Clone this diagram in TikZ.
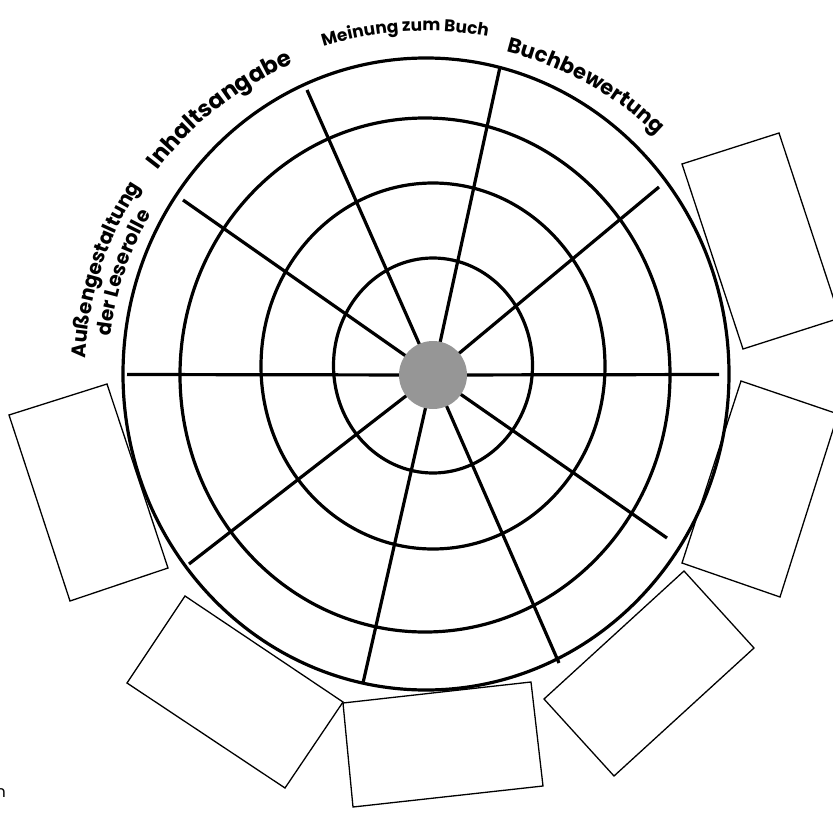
\documentclass[tikz,border=0pt]{standalone}
\usepackage{fontspec}
\newfontfamily\cfont{Poppins}
\usetikzlibrary{decorations.text}
\definecolor{dotgray}{RGB}{150,150,150}
\begin{document}
\begin{tikzpicture}[x=1pt,y=1pt,
  ring/.style={line width=3.2pt, draw=black},
  spoke/.style={line width=3.2pt, draw=black},
  card/.style={line width=1.3pt, draw=black, line join=miter},
  arctext/.style={decorate, decoration={text along path, text align=center, text={#1}}}
]
\useasboundingbox (0,0) rectangle (833,-814);
\clip (0,0) rectangle (833,-814);

% rings
\draw[ring] (426,-374) ellipse [x radius=303, y radius=316];
\draw[ring] (425,-375) ellipse [x radius=245, y radius=257];
\draw[ring] (433,-366) ellipse [x radius=172, y radius=183];
\draw[ring] (433,-365.5) ellipse [x radius=99.5, y radius=107.5];

% hub and spoke ends
\coordinate (hubc) at (433,-375);
\coordinate (eW) at (127,-374.5);
\coordinate (eE) at (719,-374.5);
\coordinate (eUL) at (183,-200);
\coordinate (eNNW) at (307,-90);
\coordinate (eNNE) at (500,-67);
\coordinate (eUR) at (659,-187);
\coordinate (eLR) at (667,-538);
\coordinate (eSSE) at (559,-663);
\coordinate (eSSW) at (363,-683);
\coordinate (eLL) at (189,-564);

\foreach \e in {eW,eE,eUL,eNNW,eNNE,eUR,eLR,eSSE,eSSW,eLL}
  \draw[spoke] (hubc) -- (\e);

\node[circle, fill=dotgray, minimum size=68pt, inner sep=0pt] (hub) at (hubc) {};

% cards
\draw[card] (682,-164) -- (779,-133) -- (840,-318) -- (743,-349) -- cycle;
\draw[card] (741,-381) -- (838,-414) -- (780,-597) -- (682,-563) -- cycle;
\draw[card] (684,-571) -- (754,-648) -- (614,-776) -- (544,-699) -- cycle;
\draw[card] (343,-703) -- (531,-682) -- (543,-786) -- (353,-807) -- cycle;
\draw[card] (185,-596) -- (343,-702) -- (285,-788) -- (127,-683) -- cycle;
\draw[card] (107,-384) -- (9,-415) -- (70,-601) -- (168,-568) -- cycle;

% curved labels
\begin{scope}[shift={(426,-374)}]
\path[arctext={|\cfont\bfseries\fontsize{20}{20}\selectfont|Außengestaltung}]
  (182:341) arc[start angle=182, end angle=142, radius=341];
\path[arctext={|\cfont\bfseries\fontsize{20}{20}\selectfont|der Leserolle}]
  (181.5:318) arc[start angle=181.5, end angle=141.5, radius=318];
\path[arctext={|\cfont\bfseries\fontsize{23}{23}\selectfont|Inhaltsangabe}]
  (150:337) arc[start angle=150, end angle=106, radius=337];
\path[arctext={|\cfont\bfseries\fontsize{17}{17}\selectfont|Meinung zum Buch}]
  (115:343) arc[start angle=115, end angle=72, radius=343];
\path[arctext={|\cfont\bfseries\fontsize{21}{21}\selectfont|Buchbewertung}]
  (82:332) arc[start angle=82, end angle=40, radius=332];
\end{scope}

\node[anchor=base east, inner sep=0pt, font=\cfont\fontsize{16}{16}\selectfont] (frag) at (6,-797) {n};
\end{tikzpicture}
\end{document}
